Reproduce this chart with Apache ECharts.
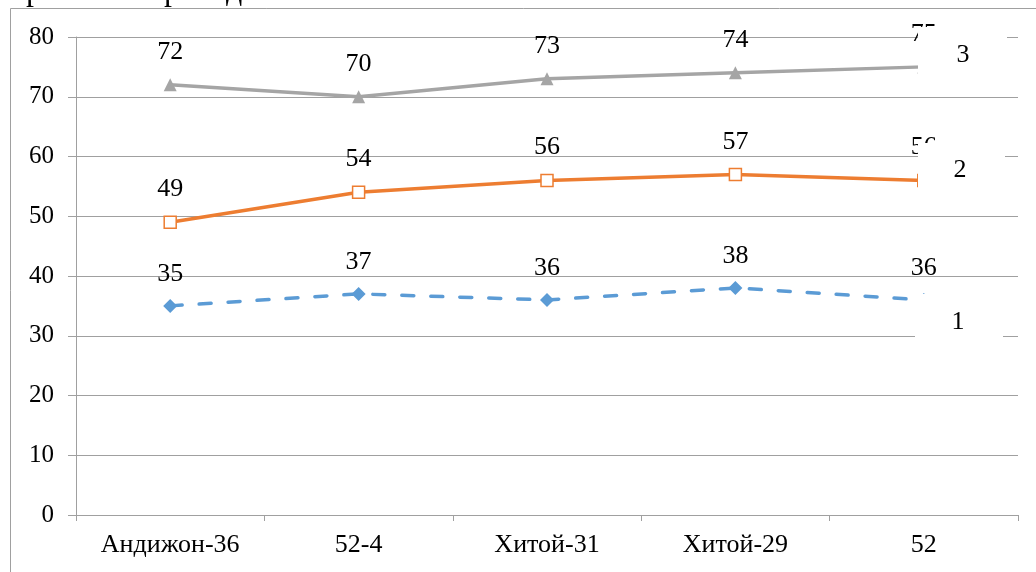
<!DOCTYPE html>
<html>
<head>
<meta charset="utf-8">
<script src="https://cdn.jsdelivr.net/npm/echarts@6/dist/echarts.min.js"></script>
<style>html,body{margin:0;padding:0;background:#fff;}#c{width:1036px;height:572px;}</style>
</head>
<body>
<div id="c"></div>
<script>
var categories = ['Андижон-36', '52-4', 'Хитой-31', 'Хитой-29', '52'];
var series1 = [35, 37, 36, 38, 36];
var series2 = [49, 54, 56, 57, 56];
var series3 = [72, 70, 73, 74, 75];
var seriesNames = ['1', '2', '3'];
var yTicks = {min: 0, max: 80, interval: 10};

var FONT = '"Liberation Serif", "Times New Roman", serif';
var chart = echarts.init(document.getElementById('c'));
function lbl(dist) {
  return {show: true, position: 'top', distance: dist, color: '#000', fontFamily: FONT, fontSize: 26, lineHeight: 26};
}
chart.setOption({
  animation: false,
  backgroundColor: '#fff',
  grid: {left: 76, right: 18, top: 37, bottom: 57, containLabel: false},
  xAxis: {
    type: 'category', data: categories, boundaryGap: true,
    axisLine: {show: true, lineStyle: {color: '#a0a0a0', width: 1}},
    axisTick: {show: true, alignWithLabel: false, length: 6, lineStyle: {color: '#a0a0a0'}},
    axisLabel: {color: '#000', fontFamily: FONT, fontSize: 26, margin: 17}
  },
  yAxis: {
    type: 'value', min: yTicks.min, max: yTicks.max, interval: yTicks.interval,
    axisLine: {show: true, lineStyle: {color: '#a0a0a0', width: 1}},
    axisTick: {show: true, length: 8, lineStyle: {color: '#a0a0a0'}},
    axisLabel: {color: '#000', fontFamily: FONT, fontSize: 25, margin: 22},
    splitLine: {show: true, lineStyle: {color: '#a0a0a0', width: 1}}
  },
  series: [
    {name: seriesNames[0], type: 'line', data: series1, symbol: 'diamond', symbolSize: 14,
     lineStyle: {color: '#5B9BD5', width: 3.5, type: [12, 17], cap: 'round'},
     itemStyle: {color: '#5B9BD5'}, label: lbl(12), z: 3},
    {name: seriesNames[1], type: 'line', data: series2, symbol: 'rect', symbolSize: 12,
     lineStyle: {color: '#ED7D31', width: 3.5},
     itemStyle: {color: '#fff', borderColor: '#ED7D31', borderWidth: 1.5}, label: lbl(13), z: 4},
    {name: seriesNames[2], type: 'line', data: series3, symbol: 'triangle', symbolSize: 13,
     lineStyle: {color: '#A5A5A5', width: 3.5},
     itemStyle: {color: '#A5A5A5'}, label: lbl(13), z: 5}
  ],
  graphic: [
    {type: 'line', z: 50, shape: {x1: 10.5, y1: 8.5, x2: 1036, y2: 8.5}, style: {stroke: '#a0a0a0', lineWidth: 1}},
    {type: 'line', z: 50, shape: {x1: 10.5, y1: 8.5, x2: 10.5, y2: 572}, style: {stroke: '#a0a0a0', lineWidth: 1}},
    {type: 'text', z: 50, x: 26, y: 8, style: {text: 'р', font: '32px ' + FONT, fill: '#000', verticalAlign: 'bottom', textVerticalAlign: 'bottom'}},
    {type: 'text', z: 50, x: 164, y: 8, style: {text: 'р', font: '32px ' + FONT, fill: '#000', verticalAlign: 'bottom', textVerticalAlign: 'bottom'}},
    {type: 'text', z: 50, x: 226, y: 8, style: {text: 'д', font: '32px ' + FONT, fill: '#000', verticalAlign: 'bottom', textVerticalAlign: 'bottom'}},
    {type: 'rect', z: 100, shape: {x: 918, y: 27, width: 89, height: 69}, style: {fill: '#fff'}},
    {type: 'rect', z: 100, shape: {x: 918, y: 143, width: 87, height: 60}, style: {fill: '#fff'}},
    {type: 'rect', z: 100, shape: {x: 915, y: 294, width: 88, height: 76}, style: {fill: '#fff'}},
    {type: 'text', z: 101, x: 963, y: 55, style: {text: seriesNames[2], font: '26px ' + FONT, fill: '#000', align: 'center', verticalAlign: 'middle', textAlign: 'center', textVerticalAlign: 'middle'}},
    {type: 'text', z: 101, x: 960, y: 170, style: {text: seriesNames[1], font: '26px ' + FONT, fill: '#000', align: 'center', verticalAlign: 'middle', textAlign: 'center', textVerticalAlign: 'middle'}},
    {type: 'text', z: 101, x: 958, y: 322, style: {text: seriesNames[0], font: '26px ' + FONT, fill: '#000', align: 'center', verticalAlign: 'middle', textAlign: 'center', textVerticalAlign: 'middle'}}
  ]
});
</script>
</body>
</html>
